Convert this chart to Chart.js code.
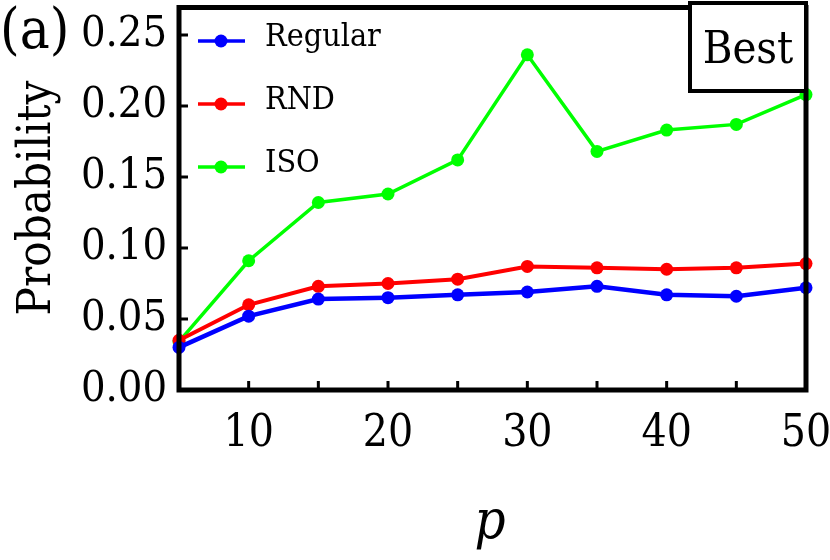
<!DOCTYPE html>
<html lang="en">
<head>
    <meta charset="UTF-8">
    <title>Probability vs p</title>
    <script src="https://cdn.jsdelivr.net/npm/chart.js"></script>
    <style>
        body { margin: 0; background: #fff; }
    </style>
    <script>
        // data
        const pValues = [5, 10, 15, 20, 25, 30, 35, 40, 45, 50];
        const regular = [0.030, 0.052, 0.064, 0.065, 0.067, 0.069, 0.073, 0.067, 0.066, 0.072];
        const rnd     = [0.035, 0.060, 0.073, 0.075, 0.078, 0.087, 0.086, 0.085, 0.086, 0.089];
        const iso     = [0.034, 0.091, 0.132, 0.138, 0.162, 0.236, 0.168, 0.183, 0.187, 0.208];
        const seriesNames = ['Regular', 'RND', 'ISO'];
        const seriesColors = ['#0000ff', '#ff0000', '#00ff00'];
        const yTicks = [0, 0.05, 0.10, 0.15, 0.20, 0.25];
        const xLabelTicks = [10, 20, 30, 40, 50];

        const FONT = '"DejaVu Serif Condensed", "DejaVu Serif", serif';

        // frame, inward ticks, legend, panel label, "Best" box
        const decorations = {
            id: 'decorations',
            afterDraw(chart) {
                const ctx = chart.ctx;
                const a = chart.chartArea;
                const xs = chart.scales.x, ys = chart.scales.y;
                ctx.save();
                ctx.strokeStyle = '#000';

                // ticks
                ctx.lineWidth = 3;
                ctx.beginPath();
                for (const t of xs.ticks) {
                    const px = xs.getPixelForValue(t.value);
                    ctx.moveTo(px, a.bottom);
                    ctx.lineTo(px, a.bottom - 9);
                }
                for (const t of ys.ticks) {
                    const py = ys.getPixelForValue(t.value);
                    ctx.moveTo(a.left, py);
                    ctx.lineTo(a.left + 9, py);
                }
                ctx.stroke();

                // frame
                ctx.lineWidth = 5;
                ctx.strokeRect(a.left, a.top + 1, a.right - a.left, a.bottom - a.top - 1);

                // legend
                chart.data.datasets.forEach((ds, i) => {
                    const y = 41 + i * 63;
                    ctx.strokeStyle = ds.borderColor;
                    ctx.lineWidth = 3.5;
                    ctx.beginPath();
                    ctx.moveTo(198, y);
                    ctx.lineTo(245, y);
                    ctx.stroke();
                    ctx.fillStyle = ds.borderColor;
                    ctx.beginPath();
                    ctx.arc(221, y, 6.5, 0, Math.PI * 2);
                    ctx.fill();
                    ctx.fillStyle = '#000';
                    ctx.font = '32px ' + FONT;
                    ctx.textBaseline = 'middle';
                    ctx.textAlign = 'left';
                    ctx.fillText(ds.label, 265, y - 3);
                });

                // Best box
                ctx.fillStyle = '#fff';
                ctx.fillRect(690, 3, 116, 88);
                ctx.strokeStyle = '#000';
                ctx.lineWidth = 4;
                ctx.strokeRect(690, 3, 116, 88);
                ctx.fillStyle = '#000';
                ctx.font = '45px ' + FONT;
                ctx.textAlign = 'center';
                ctx.textBaseline = 'alphabetic';
                ctx.fillText('Best', 748, 63);

                // panel label
                ctx.textAlign = 'left';
                ctx.font = '56px ' + FONT;
                ctx.fillText('(a)', 0, 48);

                // axis titles
                ctx.font = 'italic 54px ' + FONT;
                ctx.textAlign = 'center';
                ctx.fillText('p', 490, 538);

                ctx.translate(50, 198);
                ctx.rotate(-Math.PI / 2);
                ctx.font = '47px ' + FONT;
                ctx.fillText('Probability', 0, 0);
                ctx.restore();
            }
        };

        document.addEventListener('DOMContentLoaded', function () {
            const ctx = document.getElementById('probChart').getContext('2d');
            const datasets = [regular, rnd, iso].map((vals, i) => ({
                label: seriesNames[i],
                data: pValues.map((p, j) => ({ x: p, y: vals[j] })),
                borderColor: seriesColors[i],
                backgroundColor: seriesColors[i],
                borderWidth: i === 0 ? 4.5 : (i === 1 ? 4 : 3.5),
                pointRadius: 6.5,
                pointHoverRadius: 6.5,
                pointBorderWidth: 0,
                tension: 0,
                clip: false
            }));

            new Chart(ctx, {
                type: 'line',
                data: { datasets: datasets },
                options: {
                    responsive: false,
                    animation: false,
                    layout: { padding: { top: 3, right: 24, left: 0, bottom: 0 } },
                    plugins: { legend: { display: false }, tooltip: { enabled: false } },
                    scales: {
                        x: {
                            type: 'linear',
                            min: 5,
                            max: 50,
                            afterFit: s => { s.height = 170; s.paddingLeft = 0; s.paddingRight = 0; },
                            afterBuildTicks: s => { s.ticks = pValues.map(v => ({ value: v })); },
                            grid: { display: false, drawTicks: false },
                            border: { display: false },
                            ticks: {
                                padding: 18,
                                autoSkip: false,
                                maxRotation: 0,
                                color: '#000',
                                font: { family: FONT, size: 44 },
                                callback: v => xLabelTicks.includes(v) ? String(v) : ''
                            }
                        },
                        y: {
                            min: 0,
                            max: 0.27,
                            afterFit: s => { s.width = 179; s.paddingTop = 0; s.paddingBottom = 0; },
                            afterBuildTicks: s => { s.ticks = yTicks.map(v => ({ value: v })); },
                            grid: { display: false, drawTicks: false },
                            border: { display: false },
                            ticks: {
                                padding: 12,
                                color: '#000',
                                font: { family: FONT, size: 43 },
                                callback: v => v.toFixed(2)
                            }
                        }
                    }
                },
                plugins: [decorations]
            });
        });
    </script>
</head>
<body>
    <canvas id="probChart" width="830" height="560"></canvas>
</body>
</html>
